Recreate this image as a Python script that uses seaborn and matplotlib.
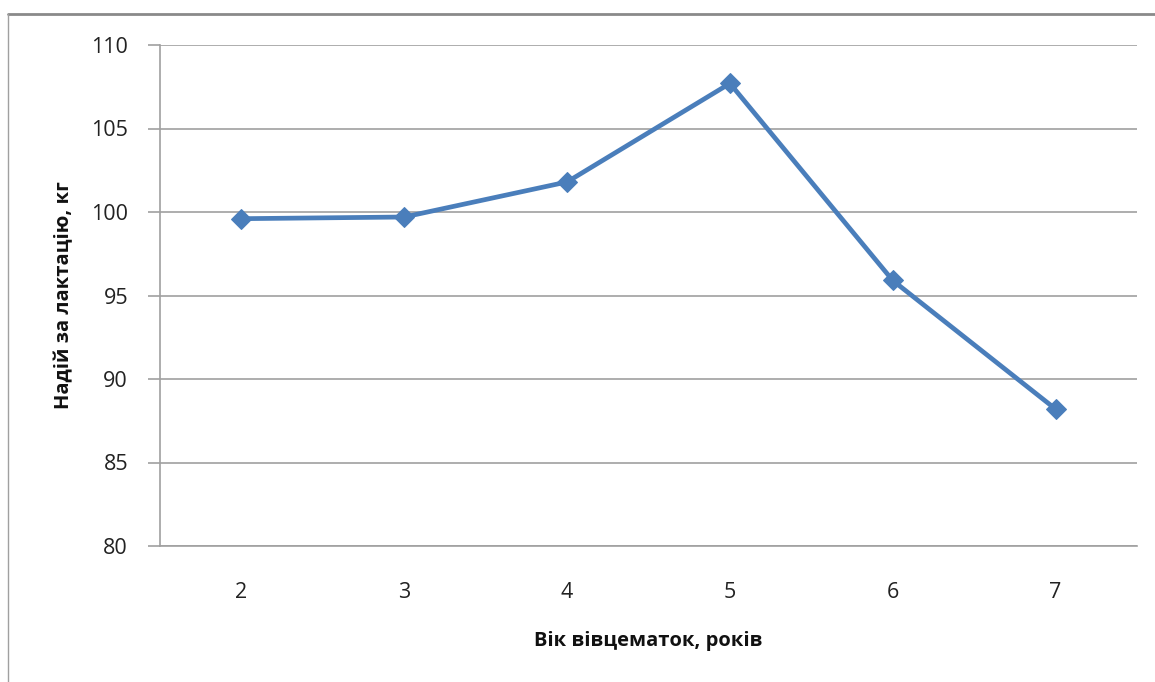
import matplotlib
matplotlib.use("Agg")
import matplotlib.pyplot as plt
import seaborn as sns
import pandas as pd
from matplotlib.lines import Line2D

ages = [2, 3, 4, 5, 6, 7]
yield_kg = [99.6, 99.7, 101.8, 107.7, 95.9, 88.2]
y_ticks = [80, 85, 90, 95, 100, 105, 110]

df = pd.DataFrame({"age": ages, "yield": yield_kg})

sns.set_theme(style="white")
plt.rcParams['font.family'] = ['Open Sans', 'DejaVu Sans']

fig = plt.figure(figsize=(11.55, 6.82), dpi=100)
ax = fig.add_axes([160/1155, 1-546/682, (1137-160)/1155, (546-45)/682])

sns.lineplot(data=df, x="age", y="yield", ax=ax, color="#4A7EBB", linewidth=3.4,
             marker="D", markersize=10, markeredgecolor="#4A7EBB", zorder=3)

ax.set_xlim(1.5, 7.5)
ax.set_ylim(80, 110)
ax.set_yticks(y_ticks)
ax.set_xticks(ages)
ax.set_xticklabels([str(a) for a in ages])
ax.yaxis.grid(True, color="#A0A0A0", linewidth=1.2)
ax.xaxis.grid(False)
for s in ["top", "right"]:
    ax.spines[s].set_visible(False)
ax.spines["left"].set_color("#A0A0A0")
ax.spines["left"].set_linewidth(1.2)
ax.spines["bottom"].set_color("#A0A0A0")
ax.spines["bottom"].set_linewidth(1.2)
ax.tick_params(axis="y", which="major", left=True, length=9, width=1.2, color="#A0A0A0",
               labelsize=15.5, pad=14, labelcolor="#222222")
ax.tick_params(axis="x", bottom=False, labelsize=15.5, pad=20, labelcolor="#222222")

ax.set_xlabel("Вік вівцематок, років", fontsize=14.5, fontweight="bold", labelpad=20, color="#111111")
ax.set_ylabel("Надій за лактацію, кг", fontsize=14.5, fontweight="bold", labelpad=12, color="#111111")

# outer chart frame (top and left)
fig.add_artist(Line2D([8/1155, 1.0], [1-14/682, 1-14/682], transform=fig.transFigure,
                      color="#8A8A8A", linewidth=2.0))
fig.add_artist(Line2D([8/1155, 8/1155], [0.0, 1-14/682], transform=fig.transFigure,
                      color="#A0A0A0", linewidth=1.0))

fig.savefig("out.png", dpi=100)
